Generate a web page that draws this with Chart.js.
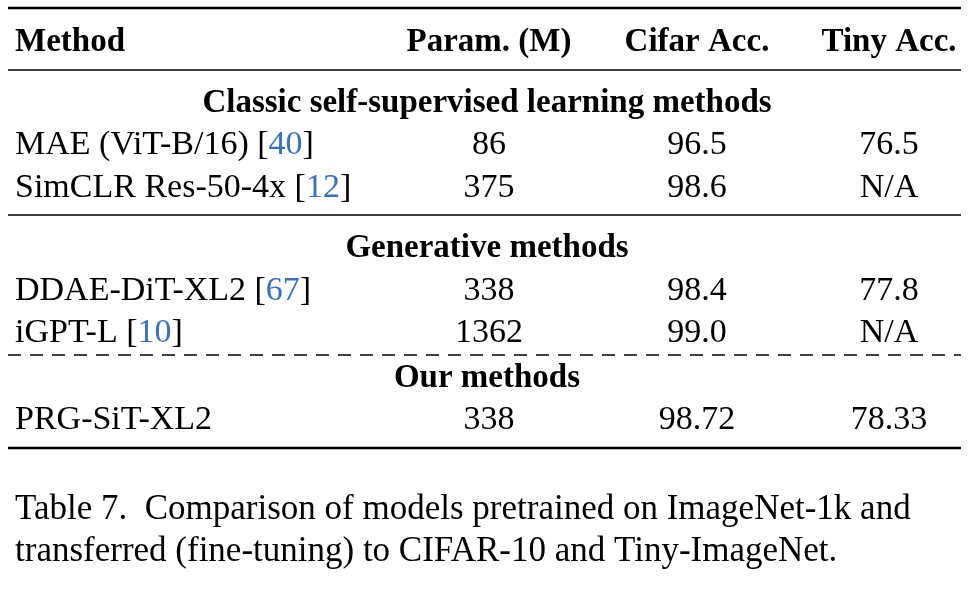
<!DOCTYPE html>
<html><head><meta charset="utf-8">
<script src="https://cdn.jsdelivr.net/npm/chart.js@4/dist/chart.umd.min.js"></script>
<style>html,body{margin:0;padding:0;background:#fff}#w{width:973px;height:598px}</style>
</head><body><div id="w"><canvas id="c" width="973" height="598"></canvas></div>
<script>
const headers = ["Method", "Param. (M)", "Cifar Acc.", "Tiny Acc."];
const groups = ["Classic self-supervised learning methods", "Generative methods", "Our methods"];
const methods = [["MAE (ViT-B/16) ", "40"], ["SimCLR Res-50-4x ", "12"], ["DDAE-DiT-XL2 ", "67"], ["iGPT-L ", "10"], ["PRG-SiT-XL2", null]];
const params = ["86", "375", "338", "1362", "338"];
const cifar = ["96.5", "98.6", "98.4", "99.0", "98.72"];
const tiny = ["76.5", "N/A", "77.8", "N/A", "78.33"];
const caption = ["Table 7.  Comparison of models pretrained on ImageNet-1k and", "transferred (fine-tuning) to CIFAR-10 and Tiny-ImageNet."];

// layout (in pixel-valued scale units)
const colX = [15, 489, 697, 889];
const headerY = 42, groupY = [103, 248, 378], rowY = [145, 188, 291, 333, 420];
const captionY = [510, 552];
const FONT = '"Liberation Serif", "DejaVu Serif", serif';

const tablePlugin = {
  id: 'table',
  afterDraw(chart) {
    const ctx = chart.ctx, xs = chart.scales.x, ys = chart.scales.y;
    const X = v => xs.getPixelForValue(v), Y = v => ys.getPixelForValue(v);
    ctx.save();
    ctx.textBaseline = 'middle';
    ctx.fillStyle = '#000';
    const rule = (y, w, dash) => { ctx.beginPath(); ctx.lineWidth = w; ctx.strokeStyle = '#000'; ctx.setLineDash(dash || []); ctx.moveTo(X(8), Y(y)); ctx.lineTo(X(961), Y(y)); ctx.stroke(); };
    rule(8, 2.5); rule(70, 1.5); rule(215, 1.5); rule(355, 1.5, [13, 9]); rule(448, 2.5);
    ctx.setLineDash([]);
    ctx.font = 'bold 33px ' + FONT;
    headers.forEach((h, i) => { ctx.textAlign = i === 0 ? 'left' : 'center'; ctx.fillText(h, X(colX[i]), Y(headerY)); });
    ctx.textAlign = 'center';
    groups.forEach((g, i) => ctx.fillText(g, X(487), Y(groupY[i])));
    ctx.font = '34px ' + FONT;
    methods.forEach((m, i) => {
      const y = Y(rowY[i]);
      ctx.textAlign = 'left';
      let x = X(colX[0]);
      ctx.fillStyle = '#000'; ctx.fillText(m[0], x, y); x += ctx.measureText(m[0]).width;
      if (m[1]) {
        ctx.fillText('[', x, y); x += ctx.measureText('[').width;
        ctx.fillStyle = '#3a72b8'; ctx.fillText(m[1], x, y); x += ctx.measureText(m[1]).width;
        ctx.fillStyle = '#000'; ctx.fillText(']', x, y);
      }
      ctx.textAlign = 'center';
      ctx.fillText(params[i], X(colX[1]), y);
      ctx.fillText(cifar[i], X(colX[2]), y);
      ctx.fillText(tiny[i], X(colX[3]), y);
    });
    ctx.textAlign = 'left';
    ctx.font = '35px ' + FONT;
    caption.forEach((c, i) => ctx.fillText(c, X(15), Y(captionY[i])));
    ctx.restore();
  }
};

new Chart(document.getElementById('c'), {
  type: 'scatter',
  data: { datasets: [{ data: [], pointRadius: 0 }] },
  options: {
    responsive: false, animation: false, devicePixelRatio: 1,
    layout: { padding: 0 },
    plugins: { legend: { display: false }, tooltip: { enabled: false } },
    scales: {
      x: { type: 'linear', min: 0, max: 973, display: false },
      y: { type: 'linear', min: 0, max: 598, reverse: true, display: false }
    }
  },
  plugins: [tablePlugin]
});
</script></body></html>
